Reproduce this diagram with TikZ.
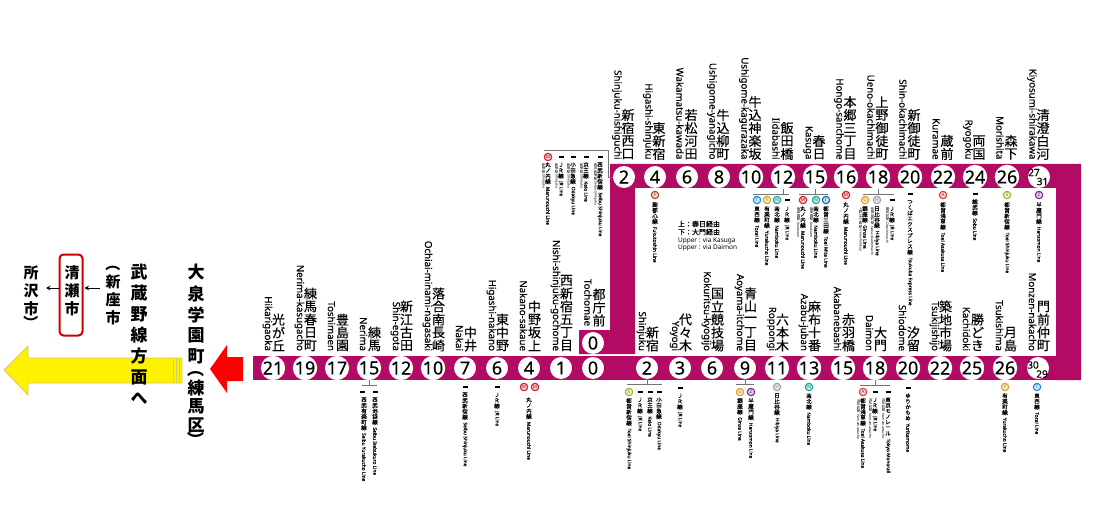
\documentclass[tikz,border=0pt]{standalone}
\usepackage{fontspec}
\usepackage{graphicx}
\usetikzlibrary{arrows.meta}
\setmainfont{Noto Sans}
\newfontfamily\enm[FakeBold=0.25]{Noto Sans}
\newfontfamily\jpf{Noto Sans CJK JP}
\newfontfamily\jpm[FakeBold=0.2]{Noto Sans CJK JP}
\definecolor{ruby}{HTML}{B30A64}
\definecolor{cT}{HTML}{1E90D0}\definecolor{cY}{HTML}{D9A520}\definecolor{cN}{HTML}{12A89A}
\definecolor{cM}{HTML}{D8202A}\definecolor{cI}{HTML}{1268B0}\definecolor{cG}{HTML}{E8A020}
\definecolor{cH}{HTML}{9AA5AA}\definecolor{cA}{HTML}{D84048}\definecolor{cS}{HTML}{A0B830}
\definecolor{cZ}{HTML}{7A2D8B}\definecolor{cF}{HTML}{B04A30}
\makeatletter
\newcommand\vstack[3]{\vbox{\offinterlineskip\@tfor\vch:=#3\do{\hbox to #1pt{\hss\vbox to #2pt{\vss\hbox{\vch}\vss}\hss}}}}
\makeatother
\newcounter{lin}
\tikzset{
 every node/.style={inner sep=0pt,outer sep=0pt},
 stn/.style={circle,fill=white,minimum size=22pt,font=\enm\fontsize{18}{18}\selectfont},
 eng/.style={rotate=-90,anchor=east,font=\enm\fontsize{9.7}{10}\selectfont},
 brk/.style={draw=black!55,line width=0.8pt},
 ringm/.style={circle,minimum size=7.4pt,line width=1.1pt,font=\bfseries\fontsize{4.6}{5}\selectfont},
 tinyeng/.style={rotate=-90,anchor=west,font=\enm\fontsize{4.8}{5}\selectfont},
 noteeng/.style={rotate=-90,anchor=west,font=\fontsize{3.4}{4}\selectfont},
 arr/.style={-{Stealth[length=4.5pt,width=4.5pt]},line width=1pt},
 dblnum/.style={font=\enm\fontsize{10}{10}\selectfont},
}
% station on the upper band: name, x, number, japanese, english
\newcommand\su[5]{%
 \node[stn] (#1) at (#2,177) {#3};
 \node[anchor=south] (#1j) at (#2+4,160.5) {\jpm\fontsize{13}{13}\selectfont\vstack{13}{13}{#4}};
 \node[eng] (#1e) at (#2-7,159.5) {#5};}
% station on the lower band
\newcommand\sd[5]{%
 \node[stn] (#1) at (#2,368) {#3};
 \node[anchor=south] (#1j) at (#2+5.5,352) {\jpm\fontsize{13}{13}\selectfont\vstack{13}{13}{#4}};
 \node[eng] (#1e) at (#2-5.5,351) {#5};}
% line label: x, y, japanese, english
\newcommand\lin[4]{\stepcounter{lin}%
 \node[anchor=north] (L\thelin) at (#1,#2) {\jpm\fontsize{5.5}{5.5}\selectfont\vstack{5.6}{5.6}{#3}};
 \node[tinyeng] (E\thelin) at ([yshift=-2.5pt]L\thelin.south) {#4};}
% station note: x, y, japanese, english
\newcommand\nte[4]{\stepcounter{lin}%
 \node[anchor=north] (L\thelin) at (#1,#2) {\jpf\fontsize{3.5}{3.5}\selectfont\vstack{3.6}{3.6}{#3}};
 \node[noteeng] (E\thelin) at ([yshift=-1pt]L\thelin.south) {#4};}
% coloured line mark
\newcommand\mk[4]{\stepcounter{lin}\node[ringm,draw=#4,fill=#4!22,text=#4!70!black] (M\thelin) at (#1,#2) {#3};}
% black dash for a non-subway line
\newcommand\dsh[2]{\fill (#1-2.5,#2-0.7) rectangle (#1+2.5,#2+0.7);}
% bracket under a station
\newcommand\brkt[3]{\draw[brk] (#1.south) -- ++(0,5) coordinate (bk); \draw[brk] (#2,0 |- bk) -- (#3,0 |- bk);}
% vertical big text
\newcommand\vbig[3]{{\jpf\bfseries\fontsize{#1}{#1}\selectfont\vstack{#1}{#2}{#3}}}
\begin{document}
\begin{tikzpicture}[x=1pt,y=-1pt]
\useasboundingbox (0,0) rectangle (1100,513);
% line body
\fill[ruby] (253,356) rectangle (1081,380);
\fill[ruby] (610,164) -- (1081,164) -- (1081,380) -- (1056,380) -- (1056,188) -- (635,188) -- (635,354) -- (579,354) -- (579,330) -- (610,330) -- cycle;
% upper stations
\su{u1}{624}{2}{新宿西口}{Shinjuku-nishiguchi}
\su{u2}{655}{4}{東新宿}{Higashi-shinjuku}
\su{u3}{687}{6}{若松河田}{Wakamatsu-kawada}
\su{u4}{719}{8}{牛込柳町}{Ushigome-yanagicho}
\su{u5}{751}{10}{牛込神楽坂}{Ushigome-kagurazaka}
\su{u6}{783}{12}{飯田橋}{Iidabashi}
\su{u7}{815}{15}{春日}{Kasuga}
\su{u8}{846}{16}{本郷三丁目}{Hongo-sanchome}
\su{u9}{878}{18}{上野御徒町}{Ueno-okachimachi}
\su{u10}{910}{20}{新御徒町}{Shin-okachimachi}
\su{u11}{943}{22}{蔵前}{Kuramae}
\su{u12}{975}{24}{両国}{Ryogoku}
\su{u13}{1007}{26}{森下}{Morishita}
\su{u14}{1039}{}{清澄白河}{Kiyosumi-shirakawa}
\node[dblnum] (u14a) at (1034,172.5) {27};
\node[dblnum] (u14b) at (1042.5,181.5) {31};
% lower stations
\sd{d1}{273}{21}{光が丘}{Hikarigaoka}
\sd{d2}{305}{19}{練馬春日町}{Nerima-kasugacho}
\sd{d3}{337}{17}{豊島園}{Toshimaen}
\sd{d4}{369}{15}{練馬}{Nerima}
\sd{d5}{401}{12}{新江古田}{Shin-egota}
\sd{d6}{433}{10}{落合南長崎}{Ochiai-minami-nagasaki}
\sd{d7}{465}{7}{中井}{Nakai}
\sd{d8}{497}{6}{東中野}{Higashi-nakano}
\sd{d9}{529}{4}{中野坂上}{Nakano-sakaue}
\sd{d10}{561}{1}{西新宿五丁目}{Nishi-shinjuku-gochome}
\node[stn] (d11) at (593,368) {0};
\sd{d12}{647}{2}{新宿}{Shinjuku}
\sd{d13}{680}{3}{代々木}{Yoyogi}
\sd{d14}{712}{6}{国立競技場}{Kokuritsu-kyogijo}
\sd{d15}{745}{9}{青山一丁目}{Aoyama-itchome}
\sd{d16}{777}{11}{六本木}{Roppongi}
\sd{d17}{809}{13}{麻布十番}{Azabu-juban}
\sd{d18}{843}{15}{赤羽橋}{Akabanebashi}
\sd{d19}{875}{18}{大門}{Daimon}
\sd{d20}{908}{20}{汐留}{Shiodome}
\sd{d21}{940}{22}{築地市場}{Tsukijishijo}
\sd{d22}{972}{25}{勝どき}{Kachidoki}
\sd{d23}{1005}{26}{月島}{Tsukishima}
\sd{d24}{1038}{}{門前仲町}{Monzen-nakacho}
\node[dblnum] (d24a) at (1033,365) {30};
\node[dblnum] (d24b) at (1042,374) {29};
% Tochomae
\node[stn] (t0) at (593,343) {0};
\node[anchor=south] (t0j) at (599,327) {\jpm\fontsize{13}{13}\selectfont\vstack{13}{13}{都庁前}};
\node[eng] (t0e) at (588,326) {Tochomae};
% upper line labels: Shinjuku-nishiguchi
\draw[brk] (u1.west) -- ++(-5,0) -- ++(0,-27) -- ++(-64,0);
\mk{548}{157}{M}{cM}\dsh{561}{157}\dsh{573}{157}\dsh{586}{157}\dsh{600}{157}
\lin{548}{162}{丸ノ内線}{Marunouchi Line}\nte{543.5}{163}{新宿駅}{Shinjuku}
\lin{561}{162}{ＪＲ線}{JR Line}\nte{556.5}{163}{新宿駅}{Shinjuku}
\lin{573}{162}{小田急線}{Odakyu Line}\nte{568.5}{163}{新宿駅}{Shinjuku}
\lin{586}{162}{京王線}{Keio Line}\nte{581.5}{163}{新宿駅}{Shinjuku}
\lin{600}{162}{西武新宿線}{Seibu Shinjuku Line}\nte{595.5}{163}{西武新宿駅}{Seibu-Shinjuku}
% Higashi-shinjuku
\mk{655}{195}{F}{cF}\lin{655}{202}{副都心線}{Fukutoshin Line}
% via note
\node[anchor=west,font=\jpm\fontsize{7}{7}\selectfont] (v1) at (678,224) {上：春日経由};
\node[anchor=west,font=\jpm\fontsize{7}{7}\selectfont] (v2) at (678,232) {下：大門経由};
\node[anchor=west,font=\fontsize{6.5}{7}\selectfont] (v3) at (678,241) {Upper : via Kasuga};
\node[anchor=west,font=\fontsize{6.5}{7}\selectfont] (v4) at (678,248) {Upper : via Daimon};
% Iidabashi
\brkt{u6}{753}{789}
\mk{757}{200}{T}{cT}\mk{767}{200}{Y}{cY}\mk{777}{200}{N}{cN}\dsh{787}{200}
\lin{757}{206}{東西線}{Tozai Line}\lin{767}{206}{有楽町線}{Yurakucho Line}\lin{777}{206}{南北線}{Namboku Line}\lin{787}{206}{ＪＲ線}{JR Line}
% Kasuga
\brkt{u7}{799}{828}
\mk{803}{200}{M}{cM}\mk{816}{200}{N}{cN}\mk{826}{200}{I}{cI}
\lin{803}{206}{丸ノ内線}{Marunouchi Line}\nte{798.5}{207}{後楽園駅}{Korakuen}
\lin{816}{206}{南北線}{Namboku Line}\nte{811.5}{207}{後楽園駅}{Korakuen}
\lin{826}{206}{都営三田線}{Toei Mita Line}
% Hongo
\mk{846}{195}{M}{cM}\lin{846}{202}{丸ノ内線}{Marunouchi Line}
% Ueno-okachimachi
\brkt{u9}{863}{894}
\mk{865}{200}{G}{cG}\mk{877}{200}{H}{cH}\dsh{892}{200}
\lin{865}{206}{銀座線}{Ginza Line}\nte{860.5}{207}{上野広小路駅}{Ueno-hirokoji}
\lin{877}{206}{日比谷線}{Hibiya Line}\nte{872.5}{207}{仲御徒町駅}{Naka-okachimachi}
\lin{892}{206}{ＪＲ線}{JR Line}\nte{887.5}{207}{御徒町駅}{Okachimachi}
% others upper
\dsh{910}{194}\lin{910}{199}{つくばエクスプレス線}{Tsukuba Express Line}
\mk{943}{195}{A}{cA}\lin{943}{202}{都営浅草線}{Toei Asakusa Line}
\dsh{975}{194}\lin{975}{199}{総武線}{Sobu Line}
\mk{1007}{195}{S}{cS}\lin{1007}{202}{都営新宿線}{Toei Shinjuku Line}
\mk{1039}{195}{Z}{cZ}\lin{1039}{202}{半蔵門線}{Hanzomon Line}
% lower line labels
\brkt{d4}{362}{377}
\dsh{362}{392}\dsh{375}{392}
\lin{364}{397}{西武有楽町線}{Seibu Yurakucho Line}\lin{375}{397}{西武池袋線}{Seibu Ikebukuro Line}
\dsh{465}{387}\lin{465}{392}{西武新宿線}{Seibu Shinjuku Line}
\dsh{497}{387}\lin{497}{392}{ＪＲ線}{JR Line}
\mk{524}{387}{M}{cM}\mk{535}{387}{M}{cM}\lin{529}{397}{丸ノ内線}{Marunouchi Line}
\brkt{d12}{627}{662}
\mk{629}{392}{S}{cS}\dsh{640}{392}\dsh{650}{392}\dsh{659}{392}
\lin{629}{398}{都営新宿線}{Toei Shinjuku Line}\lin{640}{397}{ＪＲ線}{JR Line}\lin{650}{397}{京王線}{Keio Line}\lin{659}{397}{小田急線}{Odakyu Line}
\dsh{680}{388}\lin{680}{393}{ＪＲ線}{JR Line}
\brkt{d15}{736}{754}
\mk{740}{392}{G}{cG}\mk{751}{392}{Z}{cZ}
\lin{740}{398}{銀座線}{Ginza Line}\lin{751}{398}{半蔵門線}{Hanzomon Line}
\mk{777}{387}{H}{cH}\lin{777}{393}{日比谷線}{Hibiya Line}
\mk{809}{387}{N}{cN}\lin{809}{393}{南北線}{Namboku Line}
\brkt{d19}{860}{890}
\mk{863}{392}{A}{cA}\dsh{875}{392}\dsh{888}{392}
\lin{863}{398}{都営浅草線}{Toei Asakusa Line}\nte{858.5}{399}{浜松町駅}{Hamamatsucho}
\lin{875}{397}{ＪＲ線}{JR Line}\nte{870.5}{398}{浜松町駅}{Hamamatsucho}
\lin{888}{397}{東京モノレール}{Tokyo Monorail}\nte{883.5}{398}{浜松町駅}{Hamamatsucho}
\dsh{908}{388}\lin{908}{393}{ゆりかもめ}{Yurikamome}
\mk{1005}{387}{Y}{cY}\lin{1005}{393}{有楽町線}{Yurakucho Line}
\mk{1037}{387}{T}{cT}\lin{1037}{393}{東西線}{Tozai Line}
% arrows
\fill[red] (210,369) -- (227,345) -- (227,357) -- (243,357) -- (243,381) -- (227,381) -- (227,393) -- cycle;
\draw[fill=yellow,draw=black!30!yellow!70!white,line width=0.8pt] (4,370) -- (28,346) -- (28,358) -- (182,358) -- (182,383) -- (28,383) -- (28,395) -- cycle;
\draw[black!30!yellow!70!white,line width=0.8pt] (173,358) -- (173,383) (176,358) -- (176,383) (179,358) -- (179,383);
% left texts
\node[anchor=north] (oiz) at (196,262) {\vbig{17}{21}{大泉学園町}};
\node[rotate=-90,font=\jpf\bfseries\fontsize{17}{17}\selectfont] (p1) at (196,369) {（};
\node[anchor=north] (ner) at (196,379) {\vbig{17}{18.5}{練馬区}};
\node[rotate=-90,font=\jpf\bfseries\fontsize{17}{17}\selectfont] (p2) at (196,440) {）};
\node[anchor=north] (mus) at (139,262) {\vbig{17}{21}{武蔵野線方面へ}};
\node[rotate=-90,font=\jpf\bfseries\fontsize{15}{15}\selectfont] (p3) at (113,264) {（};
\node[anchor=north] (nii) at (113,273) {\vbig{15}{18}{新座市}};
\node[draw=red!80!black,line width=2pt,rounded corners=4pt,minimum width=23pt,minimum height=81pt] (kiy) at (71,295) {};
\node[anchor=north] (kiyt) at (72,264) {\vbig{15}{18}{清瀬市}};
\node[anchor=north] (tok) at (31,264) {\vbig{15}{18}{所沢市}};
\node[rotate=-90,font=\jpf\bfseries\fontsize{15}{15}\selectfont] (p4) at (31,323) {）};
\coordinate (ay) at (0,288);
\draw[arr,shorten <=6pt,shorten >=2pt] (nii.west |- ay) -- (kiy.east |- ay);
\draw[arr,shorten >=15pt,shorten <=1pt] (kiy.west |- ay) -- (tok.center |- ay);
\end{tikzpicture}
\end{document}
